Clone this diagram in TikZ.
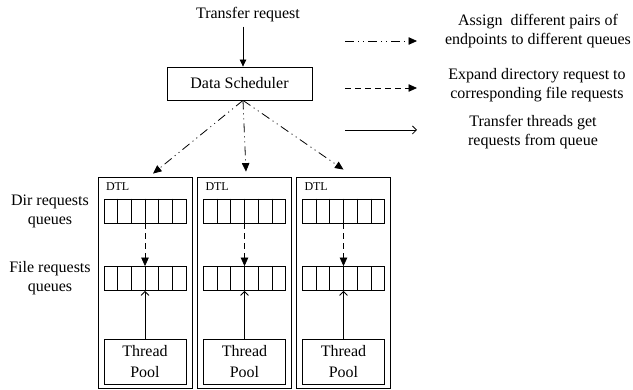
\documentclass[tikz,border=0pt]{standalone}
\usepackage{fontspec}
\setmainfont{Liberation Serif}
\usetikzlibrary{arrows.meta,positioning,calc}
\tikzset{
  box/.style={draw, align=center, inner sep=0pt, font=\fontsize{16}{21}\selectfont},
  sched/.style={box, minimum width=145pt, minimum height=33pt},
  dtl/.style={draw, minimum width=94pt, minimum height=211pt, inner sep=0pt},
  queue/.style={draw, minimum width=82pt, minimum height=24pt, inner sep=0pt},
  pool/.style={box, minimum width=82pt, minimum height=45pt},
  txt/.style={align=center, inner sep=0pt, font=\fontsize{16}{19}\selectfont},
  tag/.style={anchor=north west, inner sep=0pt, font=\fontsize{12}{14}\selectfont},
  % arrows
  assign/.style={dash pattern=on 9pt off 4pt on 1pt off 4pt on 1pt off 4pt,
    -{Triangle[length=8.5pt,width=7.5pt]}},
  expand/.style={dash pattern=on 6pt off 4pt, -{Triangle[length=8.5pt,width=7.5pt]}},
  fetch/.style={-{Straight Barb[length=4pt,width=8pt]}},
  req/.style={-{Triangle[length=7pt,width=6.5pt]}}
}
\begin{document}
\begin{tikzpicture}[x=1pt, y=-1pt, line width=0.8pt]
  \useasboundingbox (0,0) rectangle (633,390);
  \node[txt] (trq) at (248,15) {Transfer request};
  \node[sched] (ds) at (239.5,83.5) {Data Scheduler};
  \draw[req] ([xshift=-5pt,yshift=-4pt]trq.south) -- ([xshift=3.5pt]ds.north);

  % DTL columns
  \foreach \i/\cx in {1/145,2/244.5,3/343.5}{
    \node[dtl] (dtl\i) at (\cx,282.5) {};
    \node[tag] (lab\i) at ([xshift=8pt,yshift=-6pt]dtl\i.north west) {DTL};
    \node[queue] (dq\i) at (\cx,211) {};
    \node[queue] (fq\i) at (\cx,278.5) {};
    \node[pool] (tp\i) at (\cx,361.5) {Thread\\Pool};
    \foreach \k in {1,...,5}{
      \draw ($(dq\i.north west)!\k/6!(dq\i.north east)$) -- ($(dq\i.south west)!\k/6!(dq\i.south east)$);
      \draw ($(fq\i.north west)!\k/6!(fq\i.north east)$) -- ($(fq\i.south west)!\k/6!(fq\i.south east)$);
    }
    \draw[expand] (dq\i) -- (fq\i);
    \draw[fetch] (tp\i) -- (fq\i);
  }

  \draw[assign] ([xshift=3.5pt]ds.south) -- ([xshift=8pt,yshift=3pt]dtl1.north);
  \draw[assign] ([xshift=3.5pt]ds.south) -- ([xshift=1.5pt,yshift=5pt]dtl2.north);
  \draw[assign] ([xshift=3.5pt]ds.south) -- ([yshift=7pt]dtl3.north);

  % left labels
  \node[txt] (dirq) at (50,211) {Dir requests\\queues};
  \node[txt] (fileq) at (50,278) {File requests\\queues};

  % legend
  \coordinate (l1a) at (345,41);  \coordinate (l1b) at (417,41);
  \coordinate (l2a) at (345,88);  \coordinate (l2b) at (417,88);
  \coordinate (l3a) at (345,130); \coordinate (l3b) at (417,130);
  \draw[assign] (l1a) -- (l1b);
  \draw[expand] (l2a) -- (l2b);
  \draw[fetch] (l3a) -- (l3b);
  \node[txt] (t1) at (538,31) {Assign\ \ different pairs of\\endpoints to different queues};
  \node[txt] (t2) at (537,85) {Expand directory request to\\corresponding file requests};
  \node[txt] (t3) at (533,132.5) {Transfer threads get\\requests from queue};
\end{tikzpicture}
\end{document}
